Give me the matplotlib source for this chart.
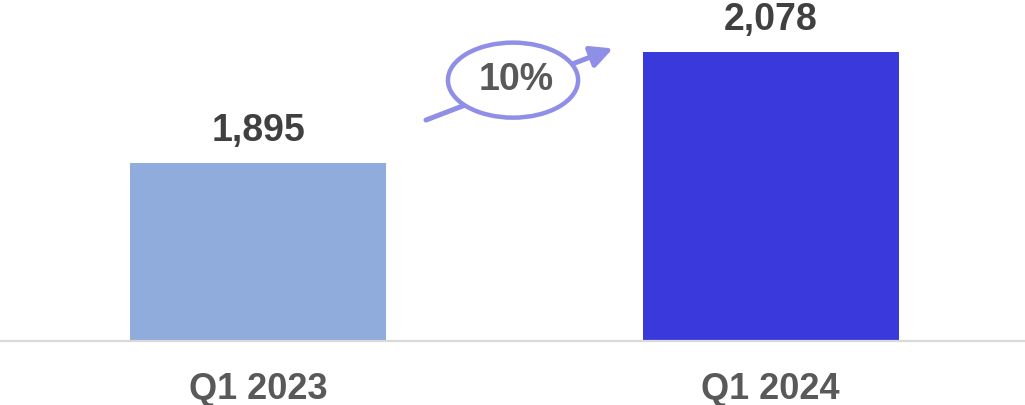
import matplotlib.pyplot as plt
from matplotlib.patches import Ellipse

# datos del trimestre
periodos = ['Q1 2023', 'Q1 2024']
valores = [1895, 2078]
colores = ['#8FACDC', '#3A3ADC']
crecimiento = '10%'

plt.rcParams['font.family'] = ['Liberation Sans', 'DejaVu Sans']

fig = plt.figure(figsize=(10.25, 4.05), dpi=100)
ax = fig.add_axes([0, 0.158, 1, 0.842])

pos = range(len(periodos))
barras = ax.bar([p + 0.004 for p in pos], valores, width=0.5, color=colores, zorder=2)

for b, v in zip(barras, valores):
    ax.annotate(f'{v:,}', (b.get_x() + b.get_width() / 2, v),
                xytext=(0, 23), textcoords='offset points',
                ha='center', va='center', fontsize=27,
                fontweight='bold', color='#404040')

ax.set_xlim(-0.5, 1.5)
ax.set_ylim(1600, 2164)
ax.set_xticks([p + 0.004 for p in pos])
ax.set_xticklabels(periodos, fontsize=26, fontweight='bold', color='#595959')
ax.tick_params(axis='x', length=0, pad=22)
ax.set_yticks([])
for s in ['top', 'right', 'left']:
    ax.spines[s].set_visible(False)
ax.spines['bottom'].set_color('#D9D9D9')
ax.spines['bottom'].set_linewidth(1.6)

# flecha de crecimiento con la elipse encima
flecha = '#8F8FE8'
ax.annotate('', xy=(0.598, 0.858), xytext=(0.4156, 0.648),
            xycoords='axes fraction', textcoords='axes fraction',
            arrowprops=dict(arrowstyle='-|>,head_length=1.3,head_width=0.65',
                            color=flecha, lw=3.6, shrinkA=0, shrinkB=0),
            zorder=3)
elipse = Ellipse((0.5005, 0.765), 0.127, 0.22, transform=ax.transAxes,
                 facecolor='white', edgecolor=flecha, lw=3.2, zorder=4)
ax.add_patch(elipse)
ax.text(0.5035, 0.765, crecimiento, transform=ax.transAxes, ha='center',
        va='center', fontsize=27, fontweight='bold', color='#595959', zorder=5)

plt.savefig('out.png', dpi=100)
